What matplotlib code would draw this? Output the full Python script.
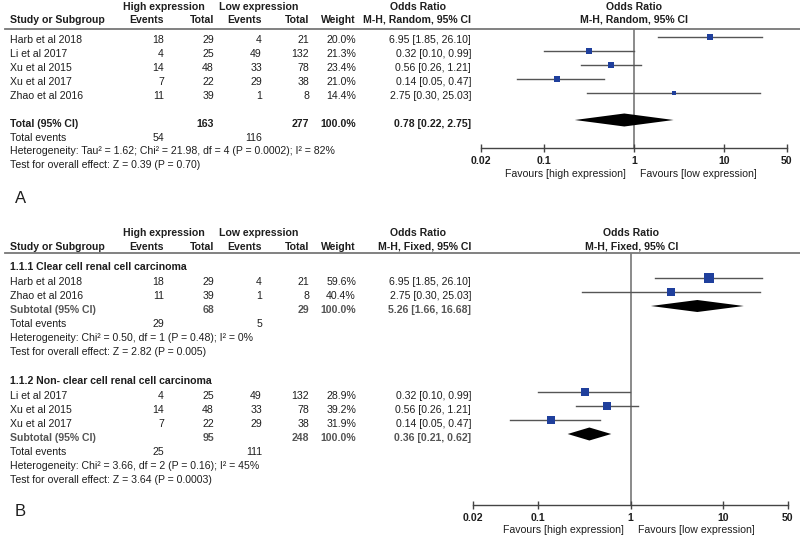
import matplotlib
matplotlib.use('Agg')
import matplotlib.pyplot as plt
import numpy as np

plt.rcParams['font.family'] = ['Liberation Sans', 'DejaVu Sans']

# ---------------- data ----------------
studies_A = ['Harb et al 2018', 'Li et al 2017', 'Xu et al 2015', 'Xu et al 2017', 'Zhao et al 2016']
high_events_A = [18, 4, 14, 7, 11]
high_total_A = [29, 25, 48, 22, 39]
low_events_A = [4, 49, 33, 29, 1]
low_total_A = [21, 132, 78, 38, 8]
weight_A = [20.0, 21.3, 23.4, 21.0, 14.4]
or_A = [6.95, 0.32, 0.56, 0.14, 2.75]
lo_A = [1.85, 0.10, 0.26, 0.05, 0.30]
hi_A = [26.10, 0.99, 1.21, 0.47, 25.03]
pooled_A = [0.78, 0.22, 2.75]
totals_A = [163, 277]
events_A = [54, 116]
het_A = 'Heterogeneity: Tau\u00b2 = 1.62; Chi\u00b2 = 21.98, df = 4 (P = 0.0002); I\u00b2 = 82%'
test_A = 'Test for overall effect: Z = 0.39 (P = 0.70)'

group1_title = '1.1.1 Clear cell renal cell carcinoma'
studies_B1 = ['Harb et al 2018', 'Zhao et al 2016']
high_events_B1 = [18, 11]
high_total_B1 = [29, 39]
low_events_B1 = [4, 1]
low_total_B1 = [21, 8]
weight_B1 = [59.6, 40.4]
or_B1 = [6.95, 2.75]
lo_B1 = [1.85, 0.30]
hi_B1 = [26.10, 25.03]
pooled_B1 = [5.26, 1.66, 16.68]
totals_B1 = [68, 29]
events_B1 = [29, 5]
het_B1 = 'Heterogeneity: Chi\u00b2 = 0.50, df = 1 (P = 0.48); I\u00b2 = 0%'
test_B1 = 'Test for overall effect: Z = 2.82 (P = 0.005)'

group2_title = '1.1.2 Non- clear cell renal cell carcinoma'
studies_B2 = ['Li et al 2017', 'Xu et al 2015', 'Xu et al 2017']
high_events_B2 = [4, 14, 7]
high_total_B2 = [25, 48, 22]
low_events_B2 = [49, 33, 29]
low_total_B2 = [132, 78, 38]
weight_B2 = [28.9, 39.2, 31.9]
or_B2 = [0.32, 0.56, 0.14]
lo_B2 = [0.10, 0.26, 0.05]
hi_B2 = [0.99, 1.21, 0.47]
pooled_B2 = [0.36, 0.21, 0.62]
totals_B2 = [95, 248]
events_B2 = [25, 111]
het_B2 = 'Heterogeneity: Chi\u00b2 = 3.66, df = 2 (P = 0.16); I\u00b2 = 45%'
test_B2 = 'Test for overall effect: Z = 3.64 (P = 0.0003)'

tick_vals = [0.02, 0.1, 1, 10, 50]
tick_labels = ['0.02', '0.1', '1', '10', '50']

# ---------------- style ----------------
W, H = 800, 537
TXT = '#1e1e1e'
SUB = '#555555'
BLUE = '#1f3f9c'
FS = 7.6

fig = plt.figure(figsize=(W / 100, H / 100), dpi=100)
ax0 = fig.add_axes([0, 0, 1, 1])
ax0.set_xlim(0, W)
ax0.set_ylim(H, 0)
ax0.axis('off')

def T(x, y, s, ha='left', bold=False, color=TXT, size=FS):
    ax0.text(x, y + 3.7 * size / FS, s, ha=ha, va='baseline', fontsize=size,
             fontweight='bold' if bold else 'normal', color=color)

X_STUDY = 10
X_E1, X_T1, X_E2, X_T2, X_W, X_OR = 164, 214, 262, 309, 356, 471

def fmt_or(o, l, h):
    return f'{o:.2f} [{l:.2f}, {h:.2f}]'

def header(y1, y2, yline, method):
    T(164, y1, 'High expression', ha='center', bold=True)
    T(259, y1, 'Low expression', ha='center', bold=True)
    T(418, y1, 'Odds Ratio', ha='center', bold=True)
    T(X_STUDY, y2, 'Study or Subgroup', bold=True)
    T(X_E1, y2, 'Events', ha='right', bold=True)
    T(X_T1, y2, 'Total', ha='right', bold=True)
    T(X_E2, y2, 'Events', ha='right', bold=True)
    T(X_T2, y2, 'Total', ha='right', bold=True)
    T(X_W, y2, 'Weight', ha='right', bold=True)
    T(X_OR, y2, method, ha='right', bold=True)
    ax0.plot([5, 800], [yline, yline], color='#777777', lw=1.3)

def study_rows(ys, names, e1, t1, e2, t2, w, o, l, h):
    for y, n, a, b, c, d, ww, oo, ll, hh in zip(ys, names, e1, t1, e2, t2, w, o, l, h):
        T(X_STUDY, y, n)
        T(X_E1, y, str(a), ha='right')
        T(X_T1, y, str(b), ha='right')
        T(X_E2, y, str(c), ha='right')
        T(X_T2, y, str(d), ha='right')
        T(X_W, y, f'{ww:.1f}%', ha='right')
        T(X_OR, y, fmt_or(oo, ll, hh), ha='right')

def make_forest(px_l, px_r, py_t, py_b):
    ax = fig.add_axes([px_l / W, 1 - py_b / H, (px_r - px_l) / W, (py_b - py_t) / H])
    ax.set_xscale('log')
    ax.set_xlim(tick_vals[0], tick_vals[-1])
    ax.set_ylim(py_b, py_t)
    ax.patch.set_alpha(0)
    for s in ['top', 'left', 'right']:
        ax.spines[s].set_visible(False)
    ax.spines['bottom'].set_color('#444444')
    ax.spines['bottom'].set_linewidth(1.0)
    ax.set_yticks([])
    ax.set_xticks(tick_vals)
    ax.set_xticklabels(tick_labels, fontweight='bold', fontsize=FS, color=TXT)
    ax.xaxis.set_minor_locator(matplotlib.ticker.NullLocator())
    ax.tick_params(axis='x', direction='inout', length=6, width=1.0, color='#444444', pad=2.5)
    ax.axvline(1, color='#777777', lw=1.2, zorder=1)
    return ax

def draw_studies(ax, ys, o, l, h, w, k):
    for y, oo, ll, hh, ww in zip(ys, o, l, h, w):
        ax.plot([ll, hh], [y, y], color='#555555', lw=1.0, zorder=2, clip_on=False)
        ax.plot([oo], [y], marker='s', markersize=k * np.sqrt(ww) * 0.72,
                color=BLUE, mew=0, zorder=3, clip_on=False)

def draw_diamond(ax, y, pooled, half):
    o, l, h = pooled
    ax.fill([l, o, h, o], [y, y - half, y, y + half], color='black', lw=0, zorder=3, clip_on=False)

# ---------------- Panel A ----------------
header(6, 19, 29, 'M-H, Random, 95% CI')
ysA = [39.5 + 14 * i for i in range(len(studies_A))]
study_rows(ysA, studies_A, high_events_A, high_total_A, low_events_A, low_total_A,
           weight_A, or_A, lo_A, hi_A)
T(X_STUDY, 123, 'Total (95% CI)', bold=True)
T(X_T1, 123, str(totals_A[0]), ha='right', bold=True)
T(X_T2, 123, str(totals_A[1]), ha='right', bold=True)
T(X_W, 123, '100.0%', ha='right', bold=True)
T(X_OR, 123, fmt_or(*pooled_A), ha='right', bold=True)
T(X_STUDY, 137, 'Total events')
T(X_E1, 137, str(events_A[0]), ha='right')
T(X_E2, 137, str(events_A[1]), ha='right')
T(X_STUDY, 150.5, het_A)
T(X_STUDY, 164, test_A)
T(15, 197, 'A', size=12)

axA = make_forest(481, 787, 29, 148)
T(634, 6, 'Odds Ratio', ha='center', bold=True)
T(634, 19, 'M-H, Random, 95% CI', ha='center', bold=True)
draw_studies(axA, [y - 3 for y in ysA], or_A, lo_A, hi_A, weight_A, 1.2)
draw_diamond(axA, 120, pooled_A, 6.5)
T(626, 173, 'Favours [high expression]', ha='right')
T(640, 173, 'Favours [low expression]', ha='left')

# ---------------- Panel B ----------------
header(232, 246, 253, 'M-H, Fixed, 95% CI')
T(X_STUDY, 266, group1_title, bold=True)
ysB1 = [281 + 14 * i for i in range(len(studies_B1))]
study_rows(ysB1, studies_B1, high_events_B1, high_total_B1, low_events_B1, low_total_B1,
           weight_B1, or_B1, lo_B1, hi_B1)
yS1 = 309
T(X_STUDY, yS1, 'Subtotal (95% CI)', bold=True, color=SUB)
T(X_T1, yS1, str(totals_B1[0]), ha='right', bold=True, color=SUB)
T(X_T2, yS1, str(totals_B1[1]), ha='right', bold=True, color=SUB)
T(X_W, yS1, '100.0%', ha='right', bold=True, color=SUB)
T(X_OR, yS1, fmt_or(*pooled_B1), ha='right', bold=True, color=SUB)
T(X_STUDY, 323, 'Total events')
T(X_E1, 323, str(events_B1[0]), ha='right')
T(X_E2, 323, str(events_B1[1]), ha='right')
T(X_STUDY, 337, het_B1)
T(X_STUDY, 351, test_B1)

T(X_STUDY, 380, group2_title, bold=True)
ysB2 = [395 + 14 * i for i in range(len(studies_B2))]
study_rows(ysB2, studies_B2, high_events_B2, high_total_B2, low_events_B2, low_total_B2,
           weight_B2, or_B2, lo_B2, hi_B2)
yS2 = 437
T(X_STUDY, yS2, 'Subtotal (95% CI)', bold=True, color=SUB)
T(X_T1, yS2, str(totals_B2[0]), ha='right', bold=True, color=SUB)
T(X_T2, yS2, str(totals_B2[1]), ha='right', bold=True, color=SUB)
T(X_W, yS2, '100.0%', ha='right', bold=True, color=SUB)
T(X_OR, yS2, fmt_or(*pooled_B2), ha='right', bold=True, color=SUB)
T(X_STUDY, 451, 'Total events')
T(X_E1, 451, str(events_B2[0]), ha='right')
T(X_E2, 451, str(events_B2[1]), ha='right')
T(X_STUDY, 465, het_B2)
T(X_STUDY, 479, test_B2)
T(15, 510, 'B', size=12)

axB = make_forest(473, 788, 253, 505)
T(631, 232, 'Odds Ratio', ha='center', bold=True)
T(632, 246, 'M-H, Fixed, 95% CI', ha='center', bold=True)
draw_studies(axB, [y - 3 for y in ysB1], or_B1, lo_B1, hi_B1, weight_B1, 1.4)
draw_diamond(axB, yS1 - 3, pooled_B1, 6)
draw_studies(axB, [y - 3 for y in ysB2], or_B2, lo_B2, hi_B2, weight_B2, 1.4)
draw_diamond(axB, yS2 - 3, pooled_B2, 6.5)
T(624, 529.5, 'Favours [high expression]', ha='right')
T(638, 529.5, 'Favours [low expression]', ha='left')

fig.savefig('out.png', dpi=100)
